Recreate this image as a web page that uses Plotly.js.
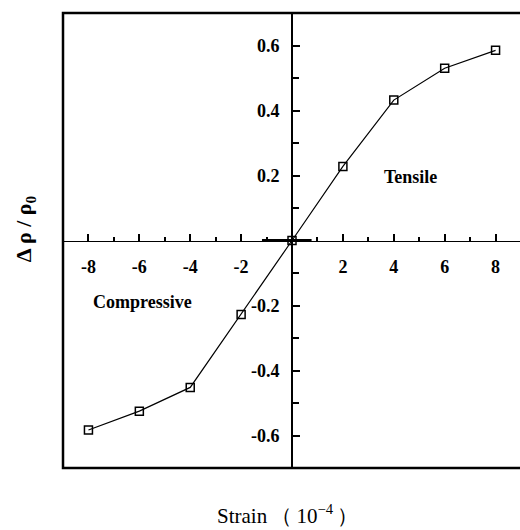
<!DOCTYPE html>
<html>
<head>
<meta charset="utf-8">
<script src="https://cdn.plot.ly/plotly-3.0.1.min.js"></script>
<style>html,body{margin:0;padding:0;background:#fff;}#chart{width:520px;height:530px;}</style>
</head>
<body>
<div id="chart"></div>
<script>
const strain = [-8, -6, -4, -2, 0, 2, 4, 6, 8];
const drho = [-0.583, -0.525, -0.452, -0.228, 0, 0.228, 0.432, 0.53, 0.585];

const xTickVals = [-8, -6, -4, -2, 2, 4, 6, 8];
const xTickText = ['-8', '-6', '-4', '-2', '2', '4', '6', '8'];
const xMinorVals = [-7, -5, -3, -1, 1, 3, 5, 7];
const yTickVals = [-0.6, -0.4, -0.2, 0.2, 0.4, 0.6];
const yTickText = ['-0.6', '-0.4', '-0.2', '0.2', '0.4', '0.6'];
const yMinorVals = [-0.5, -0.3, -0.1, 0.1, 0.3, 0.5];

const tickFont = {family: 'Liberation Serif, Times New Roman, serif', size: 18, color: '#000', weight: 'bold'};

const trace = {
  x: strain, y: drho, type: 'scatter', mode: 'lines+markers',
  line: {color: '#000', width: 1.2},
  marker: {symbol: 'square-open', size: 8, color: '#000', line: {width: 1.5, color: '#000'}},
  showlegend: false, cliponaxis: false
};

const layout = {
  width: 520, height: 530,
  margin: {l: 63, r: 0, t: 13, b: 62},
  paper_bgcolor: '#fff', plot_bgcolor: '#fff',
  xaxis: {
    range: [-9, 8.96], anchor: 'free', position: 0.5, side: 'bottom',
    showline: true, linecolor: '#000', linewidth: 1,
    ticks: 'inside', ticklen: 7, tickwidth: 2, tickcolor: '#000',
    tickmode: 'array', tickvals: xTickVals, ticktext: xTickText,
    minor: {tickmode: 'array', tickvals: xMinorVals, ticks: 'inside', ticklen: 4, tickwidth: 2, tickcolor: '#000', showgrid: false},
    tickfont: tickFont, ticklabelstandoff: 10,
    showgrid: false, zeroline: false
  },
  yaxis: {
    range: [-0.7, 0.7], anchor: 'free', position: 0.5011, side: 'left',
    showline: true, linecolor: '#000', linewidth: 2,
    ticks: 'inside', ticklen: 7, tickwidth: 2, tickcolor: '#000',
    tickmode: 'array', tickvals: yTickVals, ticktext: yTickText,
    minor: {tickmode: 'array', tickvals: yMinorVals, ticks: 'inside', ticklen: 6, tickwidth: 2, tickcolor: '#000', showgrid: false},
    tickfont: tickFont, ticklabelstandoff: 8,
    showgrid: false, zeroline: false
  },
  shapes: [
    {type: 'rect', xref: 'paper', yref: 'paper', x0: 0, x1: 1.1, y0: 0, y1: 1, line: {color: '#000', width: 2.5}},
    {type: 'line', xref: 'x', yref: 'y', x0: -1.18, x1: 0.77, y0: 0, y1: 0, line: {color: '#000', width: 3}}
  ],
  annotations: [
    {text: 'Tensile', x: 4.64, y: 0.195, xref: 'x', yref: 'y', showarrow: false,
     font: {family: 'Liberation Serif, Times New Roman, serif', size: 18, color: '#000', weight: 'bold'}},
    {text: 'Compressive', x: -5.86, y: -0.19, xref: 'x', yref: 'y', showarrow: false,
     font: {family: 'Liberation Serif, Times New Roman, serif', size: 18, color: '#000', weight: 'bold'}},
    {text: 'Δ ρ / ρ<sub>0</sub>', x: -0.083, y: 0.525, xref: 'paper', yref: 'paper', showarrow: false,
     textangle: -90, xanchor: 'center', yanchor: 'middle',
     font: {family: 'Liberation Serif, Times New Roman, serif', size: 22, color: '#000', weight: 'bold'}},
    {text: 'Strain\u2009（\u200910<sup>−4</sup>\u2009）', x: 0.492, y: -0.103, xref: 'paper', yref: 'paper', showarrow: false,
     xanchor: 'center', yanchor: 'middle',
     font: {family: 'Liberation Serif, Times New Roman, serif', size: 21, color: '#000'}}
  ]
};

Plotly.newPlot('chart', [trace], layout, {displayModeBar: false, staticPlot: true});
</script>
</body>
</html>
